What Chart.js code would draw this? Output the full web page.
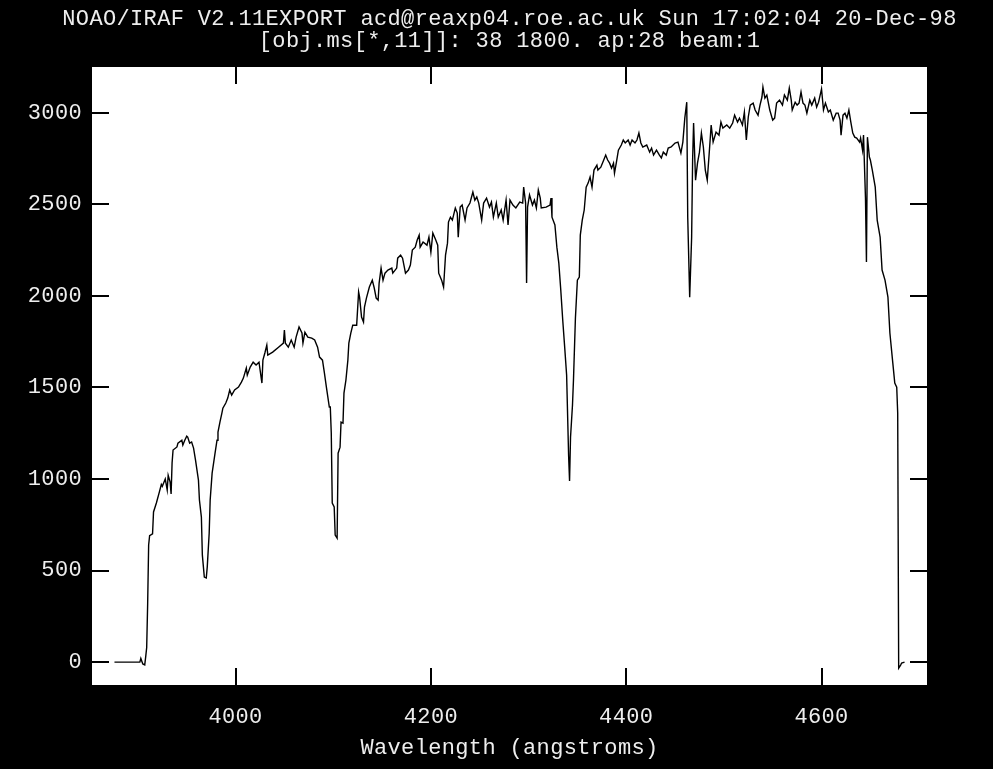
<!DOCTYPE html>
<html>
<head>
<meta charset="utf-8">
<script src="https://cdn.jsdelivr.net/npm/chart.js@4/dist/chart.umd.min.js"></script>
<style>
html,body{margin:0;padding:0;background:#000;}
#wrap{width:993px;height:769px;}
</style>
</head>
<body>
<div id="wrap"><canvas id="c" width="993" height="769"></canvas></div>
<script>
const titleText = "NOAO/IRAF V2.11EXPORT acd@reaxp04.roe.ac.uk Sun 17:02:04 20-Dec-98";
const subtitleText = "[obj.ms[*,11]]: 38 1800. ap:28 beam:1";
const xAxisTitle = "Wavelength (angstroms)";
const xTicks = [4000, 4200, 4400, 4600];
const yTicks = [0, 500, 1000, 1500, 2000, 2500, 3000];

const wavelength = [
3876,3902,3903,3905,3907,3908,3909,3910,3911,3912,3915,3916,3919,3922,3924,3925,3928,3930,3931,3933,3934,3935,3936,3940,3941,3945,3946,3948,3950,3951,3953,3955,3957,3959,3962,3963,3965,3966,3968,3970,3971,3973,3974,3976,3979,3981,3982,3984,3986,3987,3990,3992,3994,3996,3999,
4003,4006,4008,4011,4012,4015,4018,4021,4024,4027,4028,4030,4032,4033,4038,4044,4049,4050,4051,4054,4057,4060,4062,4065,4068,4069,4071,4074,4078,4081,4084,4086,4089,4091,4093,4096,4097,4098,4099,4101,4102,4104,4105,4107,4108,4110,4111,4113,4115,4116,4118,4120,4124,4126,4127,4129,4131,4132,4134,4137,4140,4142,4144,4146,4147,4149,4151,4153,4156,4160,4161,4165,4166,4169,4171,4173,4174,4177,4179,4181,4184,4186,4188,4189,4192,4196,4198,
4200,4202,4205,4207,4208,4211,4213,4215,4217,4218,4220,4222,4225,4227,4228,4230,4232,4235,4237,4240,4243,4245,4247,4249,4252,4254,4257,4260,4262,4264,4267,4269,4272,4274,4277,4279,4281,4284,4287,4291,4294,4295,4297,4298,4299,
4301,4304,4306,4308,4310,4312,4313,4318,4322,4323,4324,4327,4329,4331,4333,4335,4337,4339,4341,4342,4343,4345,4346,4348,4350,4352,4353,4355,4357,4359,4361,4363,4365,4367,4370,4371,4374,4377,4379,4381,4383,4385,4387,4388,4390,4392,4395,4397,4399,
4402,4404,4406,4409,4411,4413,4415,4417,4421,4424,4426,4428,4431,4434,4436,4438,4441,4443,4446,4450,4453,4456,4458,4460,4462,4463,4465,4467,4468,4469,4471,4473,4475,4477,4479,4481,4483,4485,4487,4489,4492,4495,4497,4499,
4503,4506,4509,4511,4514,4516,4519,4521,4523,4525,4527,4530,4532,4535,4537,4539,4540,4542,4544,4547,4550,4552,4554,4557,4560,4562,4565,4567,4569,4570,4573,4575,4577,4579,4581,4583,4585,4588,4590,4593,4595,4597,
4600,4602,4604,4607,4609,4612,4615,4617,4619,4620,4622,4624,4626,4628,4630,4632,4634,4636,4639,4640,4642,4643,4645,4646,4647,4649,4650,4652,4655,4657,4660,4662,4665,4668,4670,4673,4675,4677,4678,4679,4681,4682,4685
];
const flux = [
0,0,20,-10,-15,30,80,320,640,690,700,820,870,930,970,960,1000,940,1020,983,918,1087,1158,1175,1196,1212,1185,1212,1234,1229,1196,1202,1169,1103,994,885,792,584,464,459,519,705,885,1032,1141,1212,1256,1311,1360,1387,1415,1442,1486,1458,1486,
1502,1529,1551,1606,1567,1611,1638,1622,1638,1524,1649,1688,1731,1677,1693,1720,1742,1813,1742,1720,1759,1720,1775,1830,1797,1742,1802,1775,1769,1759,1720,1666,1649,1578,1502,1393,1393,1251,868,847,694,677,1141,1174,1311,1305,1469,1540,1649,1742,1797,1840,1840,2021,1993,1884,1857,1939,1988,2048,2086,2043,1988,1977,2070,2152,2086,2124,2141,2152,2124,2152,2206,2223,2206,2152,2124,2141,2168,2250,2266,2305,2332,2266,2294,2277,2321,
2239,2343,2305,2277,2124,2086,2048,2223,2288,2403,2430,2414,2480,2452,2321,2485,2496,2414,2480,2507,2567,2523,2540,2507,2414,2507,2534,2485,2512,2430,2507,2430,2469,2414,2523,2387,2523,2496,2480,2512,2507,2594,2507,2070,2485,
2551,2496,2523,2480,2578,2534,2480,2485,2496,2534,2430,2387,2266,2179,2032,1868,1720,1567,1131,989,1229,1404,1540,1879,2086,2103,2332,2414,2469,2594,2616,2649,2594,2687,2714,2687,2703,2742,2769,2742,2725,2698,2725,2671,2731,2796,2824,2851,2835,
2851,2824,2851,2835,2851,2889,2835,2813,2824,2785,2807,2769,2796,2769,2753,2785,2769,2807,2813,2835,2840,2780,2840,2971,3058,2430,1993,2321,2742,2944,2632,2725,2785,2889,2813,2687,2632,2780,2933,2840,2895,2878,2949,2916,
2933,2916,2944,2987,2949,2971,2933,3004,2851,2977,3042,3053,3015,2987,3042,3086,3140,3080,3097,3015,2960,2971,3053,3069,3042,3097,3069,3135,3069,3015,3058,3042,3053,3113,3053,3042,2998,3069,3042,3080,3031,3058,
3130,3015,3053,3004,3015,2960,2998,2998,2960,2878,2987,2998,2971,3015,2949,2889,2867,2862,2840,2862,2796,2878,2534,2185,2867,2758,2742,2687,2594,2414,2321,2141,2086,1993,1797,1633,1524,1502,1360,-33,-16,-5,0
];

const points = wavelength.map((w, i) => ({x: w, y: flux[i]}));

const FONT = {family: "'Liberation Mono', 'DejaVu Sans Mono', monospace", size: 22, weight: 'normal', lineHeight: 1.0};
const TEXT = '#eeeeee';

const frame = {
  id: 'frame',
  beforeDraw(chart) {
    const {ctx, chartArea: a} = chart;
    ctx.save();
    ctx.fillStyle = '#000';
    ctx.fillRect(0, 0, chart.width, chart.height);
    ctx.fillStyle = '#fff';
    ctx.fillRect(a.left, a.top, a.right - a.left, a.bottom - a.top);
    ctx.restore();
    ctx.letterSpacing = '0.35px';
  },
  afterDraw(chart) {
    const {ctx, chartArea: a, scales} = chart;
    const L = 17;
    ctx.save();
    ctx.strokeStyle = '#000';
    ctx.lineWidth = 2;
    ctx.beginPath();
    xTicks.forEach(v => {
      const p = Math.round(scales.x.getPixelForValue(v));
      ctx.moveTo(p, a.bottom); ctx.lineTo(p, a.bottom - L);
      ctx.moveTo(p, a.top); ctx.lineTo(p, a.top + L);
    });
    yTicks.forEach(v => {
      const p = Math.round(scales.y.getPixelForValue(v));
      ctx.moveTo(a.left, p); ctx.lineTo(a.left + L, p);
      ctx.moveTo(a.right, p); ctx.lineTo(a.right - L, p);
    });
    ctx.stroke();
    ctx.restore();
  }
};

new Chart(document.getElementById('c'), {
  type: 'line',
  data: {
    datasets: [{
      data: points,
      borderColor: '#000',
      borderWidth: 1.4,
      pointRadius: 0,
      tension: 0,
      fill: false
    }]
  },
  options: {
    responsive: false,
    animation: false,
    events: [],
    layout: {padding: {top: 0, right: 0, bottom: 0, left: 26}},
    plugins: {
      legend: {display: false},
      tooltip: {enabled: false},
      title: {
        display: true, text: titleText, color: TEXT, font: FONT,
        fullSize: true, padding: {top: 8, bottom: 0}
      },
      subtitle: {
        display: true, text: subtitleText, color: TEXT, font: FONT,
        fullSize: true, padding: {top: 0, bottom: 15}
      }
    },
    scales: {
      x: {
        type: 'linear', min: 3853, max: 4708,
        afterFit(s) { s.height = 84; },
        afterBuildTicks(s) { s.ticks = xTicks.map(v => ({value: v})); },
        grid: {display: false, drawTicks: false},
        border: {display: false},
        ticks: {color: TEXT, font: FONT, padding: 21, maxRotation: 0, autoSkip: false,
                callback: v => String(v)},
        title: {display: true, text: xAxisTitle, color: TEXT,
                font: {family: FONT.family, size: 22, lineHeight: 1.0}, padding: {top: 0, bottom: 10}}
      },
      y: {
        type: 'linear', min: -125, max: 3250,
        afterFit(s) { s.width = 66; },
        afterBuildTicks(s) { s.ticks = yTicks.map(v => ({value: v})); },
        grid: {display: false, drawTicks: false},
        border: {display: false},
        ticks: {color: TEXT, font: FONT, padding: 10, autoSkip: false,
                callback: v => String(v)}
      },
      yRight: {
        type: 'linear', position: 'right', min: -125, max: 3250,
        afterFit(s) { s.width = 66; },
        grid: {display: false, drawTicks: false},
        border: {display: false},
        ticks: {display: false}
      }
    }
  },
  plugins: [frame]
});
</script>
</body>
</html>
